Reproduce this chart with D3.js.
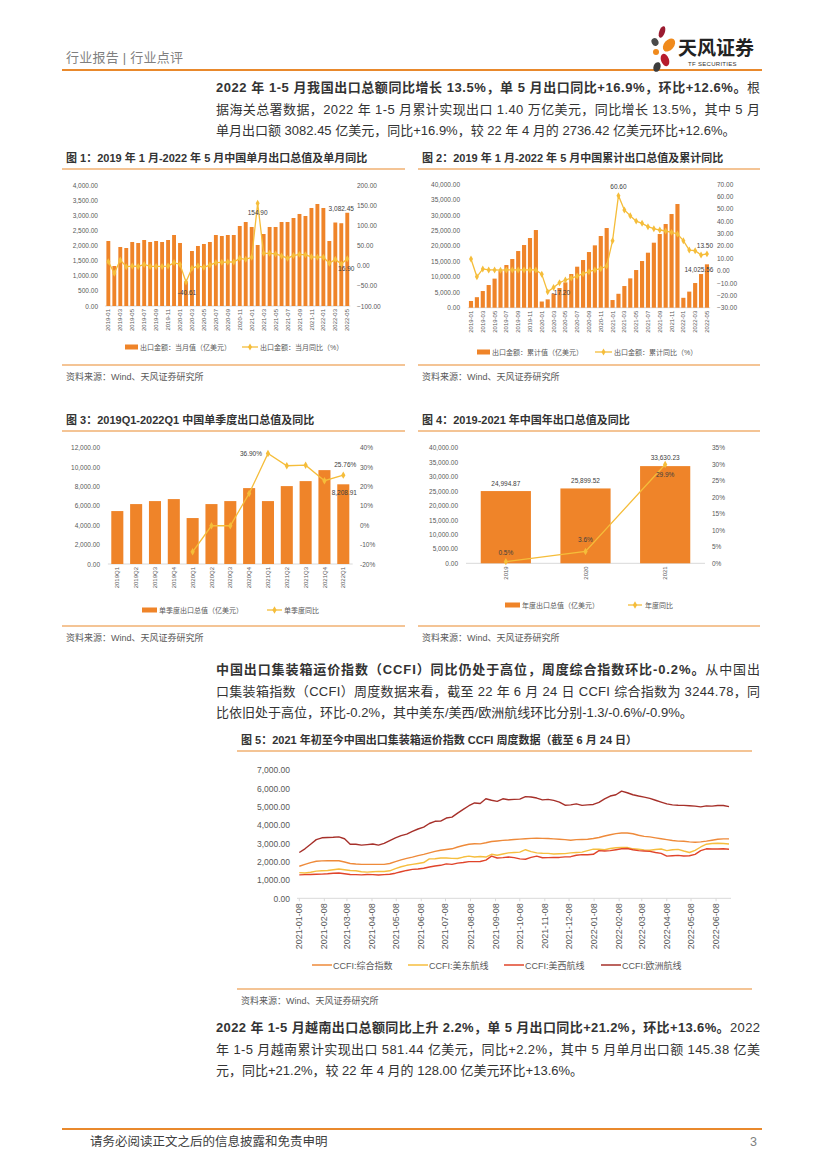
<!DOCTYPE html>
<html><head><meta charset="utf-8">
<script src="https://cdn.jsdelivr.net/npm/d3@7"></script>
<style>body{margin:0;background:#fff}svg{display:block}</style>
</head><body><svg id="page" width="827" height="1169"></svg>
<script>
// ---------------- DATA ----------------
const months = ["2019-01","2019-02","2019-03","2019-04","2019-05","2019-06","2019-07","2019-08","2019-09","2019-10","2019-11","2019-12",
"2020-01","2020-02","2020-03","2020-04","2020-05","2020-06","2020-07","2020-08","2020-09","2020-10","2020-11","2020-12",
"2021-01","2021-02","2021-03","2021-04","2021-05","2021-06","2021-07","2021-08","2021-09","2021-10","2021-11","2021-12",
"2022-01","2022-02","2022-03","2022-04","2022-05"];
const monthlyExport = [2149,1322,1950,1917,2116,2083,2182,2116,2149,2116,2182,2347,
2083,810,1818,1984,2050,2116,2347,2314,2347,2347,2645,2777,
2612,2017,2380,2612,2612,2777,2777,2909,3042,2975,3240,3372,
3240,2149,2760,2736.42,3082.45];
const monthlyYoY = [10,-19,14,-2.5,-1,-2,3,-2,-2,-2,-1,7.6,
3,-40.61,-6.6,-0.8,-4,1.6,7.4,8.3,9.1,9.1,18.2,15.7,
20.7,154.9,30.6,30.6,29,24,18.5,25,28,27,22,21,
21,6,15.7,3.9,16.9];
const cumExport = [2175,3400,5390,7330,9400,11858,13800,15740,18326,20266,22530,25117,
2000,2700,4528,6360,8190,10888,13260,15415,18000,20160,23180,25764,
2480,4500,7007,9486,12181,15092,17787,21021,23824,27058,30292,33526,
3200,5200,7977,10888,14025.56];
const cumYoY = [9.4,-5,1.3,0.5,0.5,0.3,0.5,0.5,0.5,0.5,0.5,0.5,
-3,-17.2,-13.6,-9.8,-7.6,-6,-4.4,-2.5,-0.9,0.5,1.5,3.7,
24.2,60.6,49,44.4,40,38.2,35.5,33.9,32.8,32,30.9,29.6,
24.2,16.6,16.1,12.6,13.5];
const quarters = ["2019Q1","2019Q2","2019Q3","2019Q4","2020Q1","2020Q2","2020Q3","2020Q4","2021Q1","2021Q2","2021Q3","2021Q4","2022Q1"];
const quarterExport = [5452,6172,6480,6686,4732,6172,6480,7818,6480,8024,8538,9670,8208.91];
const quarterYoY = [null,null,null,null,-13.7,-0.3,-0.3,16.3,36.9,30.6,30.9,22.9,25.76];
const years = ["2019","2020","2021"];
const yearExport = [24994.87,25899.52,33630.23];
const yearYoY = [0.5,3.6,29.9];

const ccfiStart = "2021-01-08";
const ccfiTicks = ["2021-01-08","2021-02-08","2021-03-08","2021-04-08","2021-05-08","2021-06-08","2021-07-08","2021-08-08","2021-09-08",
"2021-10-08","2021-11-08","2021-12-08","2022-01-08","2022-02-08","2022-03-08","2022-04-08","2022-05-08","2022-06-08"];
const ccfiComposite = [1750,1850,1950,2020,2040,2050,2050,2050,1980,1900,
1870,1850,1850,1850,1850,1850,1900,2000,2100,2180,
2250,2330,2400,2480,2560,2620,2660,2700,2800,2880,
2950,2980,2970,3030,3100,3130,3160,3180,3210,3230,
3250,3270,3280,3270,3260,3240,3220,3200,3170,3200,
3210,3220,3260,3320,3400,3470,3530,3560,3560,3520,
3440,3380,3350,3300,3250,3200,3150,3120,3110,3080,
3060,3080,3120,3170,3220,3240,3244.78];
const ccfiUSEast = [1400,1380,1420,1480,1500,1520,1560,1600,1560,1520,
1500,1450,1430,1450,1470,1460,1500,1620,1720,1800,
1850,1900,1950,2150,2160,2200,2200,2180,2170,2250,
2300,2250,2280,2250,2400,2350,2420,2480,2500,2520,
2650,2550,2480,2460,2450,2420,2430,2440,2480,2500,
2520,2600,2680,2680,2650,2720,2760,2780,2780,2700,
2680,2640,2620,2660,2690,2600,2650,2670,2580,2500,
2620,2800,2950,2990,3000,2990,2960];
const ccfiUSWest = [1280,1290,1300,1310,1320,1340,1370,1380,1340,1300,
1290,1280,1300,1290,1270,1290,1310,1370,1450,1520,
1580,1600,1640,1710,1760,1800,1880,1850,1920,1950,
2000,2000,2010,2080,2300,2200,2220,2250,2220,2150,
2130,2230,2300,2210,2220,2230,2230,2260,2270,2350,
2380,2380,2400,2600,2580,2600,2650,2700,2720,2650,
2600,2580,2560,2500,2450,2300,2320,2340,2310,2320,
2400,2600,2700,2690,2690,2700,2680];
const ccfiEurope = [2500,2700,2950,3200,3300,3320,3330,3350,3250,2950,
2950,2900,2930,2960,2900,3000,3150,3300,3420,3500,
3650,3780,3880,4080,4200,4210,4380,4430,4650,4850,
5050,5200,5170,5430,5350,5290,5430,5380,5400,5410,
5550,5530,5470,5370,5400,5340,5250,5080,5100,5150,
5070,5100,5120,5230,5420,5580,5650,5850,5760,5650,
5580,5520,5450,5350,5250,5150,5100,5080,5070,5050,
5030,4990,5040,5030,5060,5060,5000];
const ccfiNames = ["CCFI:综合指数","CCFI:美东航线","CCFI:美西航线","CCFI:欧洲航线"];

// ---------------- STYLE ----------------
const FONT = '"Liberation Sans","Noto Sans CJK SC",sans-serif';
const ORANGE = "#E9892C", BAR = "#EF8429", LINE = "#F5BD3A", TXT = "#404040", AX = "#595959";
const CCFI_COLORS = ["#EE8A3A","#F6BE3E","#E0442A","#A6302A"];

const svg = d3.select("#page").attr("font-family", FONT);
svg.append("rect").attr("width",827).attr("height",1169).attr("fill","#fff");

// header
svg.append("text").attr("x",66).attr("y",62).attr("font-size",13).attr("fill","#7f7f7f")
  .attr("textLength",117).attr("lengthAdjust","spacing").text("行业报告 | 行业点评");
svg.append("line").attr("x1",62).attr("x2",762).attr("y1",70).attr("y2",70).attr("stroke",ORANGE).attr("stroke-width",2);
// logo
const petals = [[662,32,2.8,6,20,"#9B1B30"],[655,42,3.3,4,-30,"#4A4A4A"],[669,45,5,7.5,40,"#F08A1C"],
  [656,52,3,3,0,"#F08A1C"],[665,60,4,6.5,-20,"#B71C2C"],[657,67,3.5,5,20,"#3C3C3C"]];
petals.forEach(p => svg.append("ellipse").attr("cx",p[0]).attr("cy",p[1]).attr("rx",p[2]).attr("ry",p[3])
  .attr("transform",`rotate(${p[4]},${p[0]},${p[1]})`).attr("fill",p[5]));
svg.append("text").attr("x",678).attr("y",55).attr("font-size",19).attr("font-weight","bold").attr("fill","#222").text("天风证券");
svg.append("text").attr("x",688).attr("y",66).attr("font-size",6).attr("fill","#333").attr("letter-spacing",0.3).text("TF SECURITIES");

// paragraphs
function paraLine(x, y, parts, width) {
  const t = svg.append("text").attr("x",x).attr("y",y).attr("font-size",13).attr("fill","#333");
  if (width) t.attr("textLength",width).attr("lengthAdjust","spacing");
  parts.forEach(p => t.append("tspan").attr("font-weight", p[1] ? "bold" : "normal").text(p[0]));
}
paraLine(216,92,[["2022 年 1-5 月我国出口总额同比增长 13.5%，单 5 月出口同比+16.9%，环比+12.6%。",1],["根",0]],544);
paraLine(216,113.5,[["据海关总署数据，2022 年 1-5 月累计实现出口 1.40 万亿美元，同比增长 13.5%，其中 5 月",0]],544);
paraLine(216,135,[["单月出口额 3082.45 亿美元，同比+16.9%，较 22 年 4 月的 2736.42 亿美元环比+12.6%。",0]]);

paraLine(216,674,[["中国出口集装箱运价指数（CCFI）同比仍处于高位，周度综合指数环比-0.2%。",1],["从中国出",0]],544);
paraLine(216,695.5,[["口集装箱指数（CCFI）周度数据来看，截至 22 年 6 月 24 日 CCFI 综合指数为 3244.78，同",0]],544);
paraLine(216,717,[["比依旧处于高位，环比-0.2%，其中美东/美西/欧洲航线环比分别-1.3/-0.6%/-0.9%。",0]]);

paraLine(216,1032,[["2022 年 1-5 月越南出口总额同比上升 2.2%，单 5 月出口同比+21.2%，环比+13.6%。",1],["2022",0]],544);
paraLine(216,1053.5,[["年 1-5 月越南累计实现出口 581.44 亿美元，同比+2.2%，其中 5 月单月出口额 145.38 亿美",0]],544);
paraLine(216,1075,[["元，同比+21.2%，较 22 年 4 月的 128.00 亿美元环比+13.6%。",0]]);

// footer
svg.append("line").attr("x1",62).attr("x2",762).attr("y1",1129).attr("y2",1129).attr("stroke",ORANGE).attr("stroke-width",2);
svg.append("text").attr("x",90).attr("y",1146).attr("font-size",12.5).attr("fill","#404040").text("请务必阅读正文之后的信息披露和免责申明");
svg.append("text").attr("x",750).attr("y",1146).attr("font-size",12.5).attr("fill","#7f7f7f").text("3");

// chart frame: title + lines + source
function frame(x1, x2, titleY, lineY, srcLineY, title) {
  svg.append("text").attr("x",x1+4).attr("y",titleY).attr("font-size",11).attr("font-weight","bold").attr("fill","#333").text(title);
  svg.append("line").attr("x1",x1).attr("x2",x2).attr("y1",lineY).attr("y2",lineY).attr("stroke",ORANGE).attr("stroke-width",1.2);
  svg.append("line").attr("x1",x1).attr("x2",x2).attr("y1",srcLineY).attr("y2",srcLineY).attr("stroke",ORANGE).attr("stroke-width",1.2);
  svg.append("text").attr("x",x1+4).attr("y",srcLineY+15).attr("font-size",9).attr("fill","#595959").text("资料来源：Wind、天风证券研究所");
}
frame(62,405,162,169,365,"图 1：2019 年 1 月-2022 年 5 月中国单月出口总值及单月同比");
frame(418,760,162,169,365,"图 2：2019 年 1 月-2022 年 5 月中国累计出口总值及累计同比");
frame(62,405,424,431,626,"图 3：2019Q1-2022Q1 中国单季度出口总值及同比");
frame(418,760,424,431,626,"图 4：2019-2021 年中国年出口总值及同比");
frame(237,752,744,751,989,"图 5：2021 年初至今中国出口集装箱运价指数 CCFI 周度数据（截至 6 月 24 日）");

// combo chart
function combo(o) {
  const g = svg.append("g");
  const x = d3.scaleBand().domain(o.cats).range(o.xr).paddingInner(o.pi).paddingOuter(o.po);
  const yL = d3.scaleLinear().domain(o.lDom).range([o.y0, o.y1]);
  const yR = d3.scaleLinear().domain(o.rDom).range([o.y0, o.y1]);
  const cx = i => x(o.cats[i]) + x.bandwidth() / 2;
  g.append("line").attr("x1",o.xr[0]).attr("x2",o.xr[1]).attr("y1",o.y0).attr("y2",o.y0).attr("stroke","#D9D9D9");
  const la = g.append("g").attr("transform",`translate(${o.lx},0)`)
    .call(d3.axisLeft(yL).tickValues(o.lTicks).tickFormat(o.lFmt).tickSize(0).tickPadding(0));
  const ra = g.append("g").attr("transform",`translate(${o.rx},0)`)
    .call(d3.axisRight(yR).tickValues(o.rTicks).tickFormat(o.rFmt).tickSize(0).tickPadding(0));
  [la, ra].forEach(a => { a.select(".domain").remove();
    a.selectAll("text").attr("font-size",o.fs).attr("fill",AX).attr("font-family",FONT); });
  g.selectAll(".bar").data(o.bars).join("rect").attr("x",(d,i)=>x(o.cats[i])).attr("width",x.bandwidth())
    .attr("y",d=>yL(d)).attr("height",d=>o.y0-yL(d)).attr("fill",BAR);
  g.selectAll(".xl").data(o.cats.filter((c,i)=>i % o.every === 0)).join("text")
    .attr("transform",c=>`translate(${x(c)+x.bandwidth()/2+o.xfs*0.35},${o.y0+3}) rotate(-90)`)
    .attr("text-anchor","end").attr("font-size",o.xfs).attr("fill",AX).text(c => c);
  const line = d3.line().defined(d=>d!=null).x((d,i)=>cx(i)).y(d=>yR(d));
  g.append("path").datum(o.line).attr("d",line).attr("fill","none").attr("stroke",LINE).attr("stroke-width",1.3);
  const sym = d3.symbol(d3.symbolDiamond).size(o.ms);
  g.selectAll(".mk").data(o.line.map((d,i)=>[d,i]).filter(d=>d[0]!=null)).join("path")
    .attr("d",sym).attr("transform",d=>`translate(${cx(d[1])},${yR(d[0])})`).attr("fill",LINE);
  o.labels.forEach(l => {
    const v = l.s === "bar" ? o.bars[l.i] : o.line[l.i];
    const y = l.s === "bar" ? yL(v) : yR(v);
    g.append("text").attr("x",cx(l.i)+l.dx).attr("y",y+l.dy).attr("text-anchor",l.a||"middle")
      .attr("font-size",o.fs).attr("fill",TXT).text(l.t);
  });
  const L = o.legend;
  g.append("rect").attr("x",L.r[0]).attr("width",L.r[1]-L.r[0]).attr("y",L.y-2.5).attr("height",5).attr("fill",BAR);
  g.append("text").attr("x",L.t1).attr("y",L.y+2.5).attr("font-size",7).attr("fill",AX).text(o.names[0]);
  g.append("line").attr("x1",L.l[0]).attr("x2",L.l[1]).attr("y1",L.y).attr("y2",L.y).attr("stroke",LINE).attr("stroke-width",1.3);
  g.append("path").attr("d",sym).attr("transform",`translate(${(L.l[0]+L.l[1])/2},${L.y})`).attr("fill",LINE);
  g.append("text").attr("x",L.t2).attr("y",L.y+2.5).attr("font-size",7).attr("fill",AX).text(o.names[1]);
}
const f2 = d3.format(",.2f"), p2 = d3.format(".2f"), pct = d => d + "%";

combo({cats:months, bars:monthlyExport, line:monthlyYoY, xr:[105.2,350.4], pi:.35, po:.2,
  lDom:[0,4000], rDom:[-100,200], y0:306, y1:185, lTicks:d3.range(0,4001,500), rTicks:d3.range(-100,201,50),
  lFmt:f2, rFmt:p2, lx:98, rx:357, fs:6.5, xfs:6, every:2, ms:14,
  labels:[{s:"bar",i:40,t:"3,082.45",dx:-6,dy:-2},{s:"line",i:25,t:"154.90",dx:0,dy:12},
          {s:"line",i:13,t:"-40.61",dx:1,dy:13},{s:"line",i:40,t:"16.90",dx:-1,dy:12}],
  legend:{y:347,r:[125,138],t1:140,l:[242,258],t2:260},
  names:["出口金额：当月值（亿美元）","出口金额：当月同比（%）"]});

combo({cats:months, bars:cumExport, line:cumYoY, xr:[467.75,710.2], pi:.3, po:.2,
  lDom:[0,40000], rDom:[-30,70], y0:307.7, y1:184, lTicks:d3.range(0,40001,5000), rTicks:d3.range(-30,71,10),
  lFmt:f2, rFmt:p2, lx:460, rx:717, fs:6.5, xfs:6, every:2, ms:14,
  labels:[{s:"bar",i:40,t:"14,025.56",dx:-8,dy:8},{s:"line",i:25,t:"60.60",dx:0,dy:-7},
          {s:"line",i:13,t:"-17.20",dx:4,dy:3,a:"start"},{s:"line",i:40,t:"13.50",dx:-2,dy:-6}],
  legend:{y:352,r:[477,490],t1:492,l:[595,612],t2:614},
  names:["出口金额：累计值（亿美元）","出口金额：累计同比（%）"]});

combo({cats:quarters, bars:quarterExport, line:quarterYoY, xr:[107.9,352.7], pi:.36, po:.18,
  lDom:[0,12000], rDom:[-20,40], y0:564, y1:447.5, lTicks:d3.range(0,12001,2000), rTicks:d3.range(-20,41,10),
  lFmt:f2, rFmt:pct, lx:100, rx:360, fs:6.5, xfs:6, every:1, ms:16,
  labels:[{s:"bar",i:12,t:"8,208.91",dx:1,dy:11},{s:"line",i:8,t:"36.90%",dx:-6,dy:2,a:"end"},
          {s:"line",i:12,t:"25.76%",dx:2,dy:-8}],
  legend:{y:610,r:[142,157],t1:159,l:[267,282],t2:284},
  names:["单季度出口总值（亿美元）","单季度同比"]});

combo({cats:years, bars:yearExport, line:yearYoY, xr:[466,705], pi:.37, po:.185,
  lDom:[0,40000], rDom:[0,35], y0:563.3, y1:447.7, lTicks:d3.range(0,40001,5000), rTicks:d3.range(0,36,5),
  lFmt:f2, rFmt:pct, lx:458, rx:712, fs:6.5, xfs:6, every:1, ms:16,
  labels:[{s:"bar",i:0,t:"24,994.87",dx:0,dy:-5},{s:"bar",i:1,t:"25,899.52",dx:0,dy:-5},{s:"bar",i:2,t:"33,630.23",dx:0,dy:-6},
          {s:"line",i:0,t:"0.5%",dx:0,dy:-7},{s:"line",i:1,t:"3.6%",dx:0,dy:-9},{s:"line",i:2,t:"29.9%",dx:0,dy:12}],
  legend:{y:605,r:[505,520],t1:522,l:[628,642],t2:645},
  names:["年度出口总值（亿美元）","年度同比"]});

// CCFI chart
(function(){
  const parse = d3.timeParse("%Y-%m-%d");
  const start = parse(ccfiStart);
  const dates = ccfiComposite.map((d,i) => d3.timeDay.offset(start, 7*i));
  const x = d3.scaleTime().domain([start, dates[dates.length-1]]).range([299.3, 729]);
  const y = d3.scaleLinear().domain([0,7000]).range([898.3, 770]);
  const g = svg.append("g");
  g.append("line").attr("x1",297).attr("x2",731).attr("y1",y(0)).attr("y2",y(0)).attr("stroke","#D9D9D9");
  const ticks = ccfiTicks.map(parse);
  g.selectAll(".tk").data(ticks).join("line").attr("x1",d=>x(d)).attr("x2",d=>x(d))
    .attr("y1",y(0)).attr("y2",y(0)+3).attr("stroke","#D9D9D9");
  const la = g.append("g").attr("transform","translate(290,0)")
    .call(d3.axisLeft(y).tickValues(d3.range(0,7001,1000)).tickFormat(d3.format(",.2f")).tickSize(0).tickPadding(0));
  la.select(".domain").remove();
  la.selectAll("text").attr("font-size",8.5).attr("fill",AX).attr("font-family",FONT);
  g.selectAll(".xl").data(ccfiTicks).join("text")
    .attr("transform",d=>`translate(${x(parse(d))+3},${y(0)+5}) rotate(-90)`)
    .attr("text-anchor","end").attr("font-size",9).attr("fill",AX).text(d=>d);
  const series = [ccfiComposite, ccfiUSEast, ccfiUSWest, ccfiEurope];
  const line = d3.line().x((d,i)=>x(dates[i])).y(d=>y(d));
  series.forEach((s,k) => g.append("path").datum(s).attr("d",line).attr("fill","none")
    .attr("stroke",CCFI_COLORS[k]).attr("stroke-width",1.4).attr("stroke-linejoin","round"));
  const lx = [312,408,504,601];
  ccfiNames.forEach((n,k) => {
    g.append("line").attr("x1",lx[k]).attr("x2",lx[k]+20).attr("y1",965).attr("y2",965).attr("stroke",CCFI_COLORS[k]).attr("stroke-width",1.5);
    g.append("text").attr("x",lx[k]+21).attr("y",968.5).attr("font-size",9).attr("fill",AX).text(n);
  });
})();
</script></body></html>
